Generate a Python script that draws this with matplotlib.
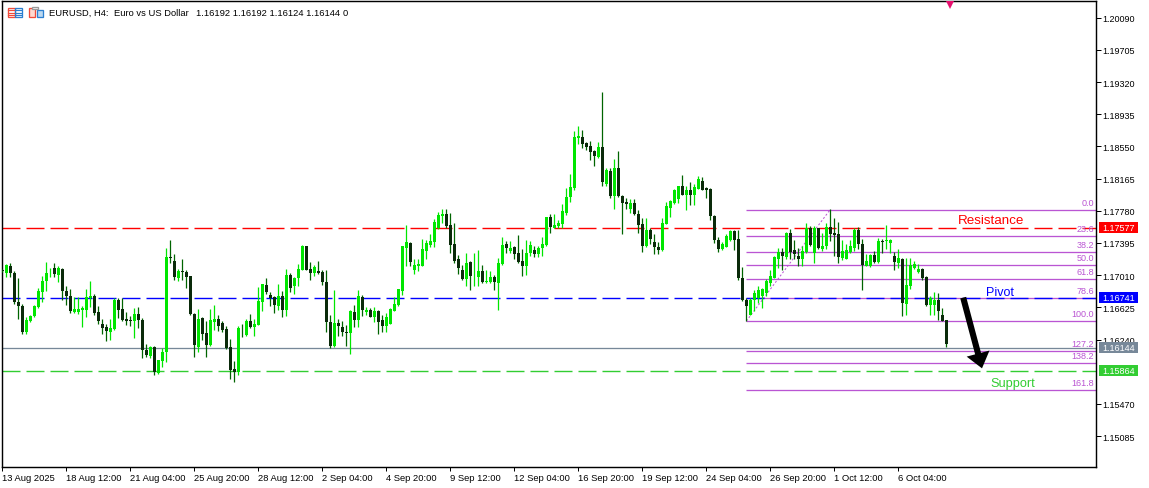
import matplotlib
matplotlib.use("Agg")
import matplotlib.pyplot as plt
import numpy as np
from matplotlib.patches import Rectangle, FancyArrowPatch

plt.rcParams['font.family'] = ['Liberation Sans', 'DejaVu Sans']

# Prices in points (1 point = 0.00001)
highs = [
117085,117149,117157,117057,116981,116669,116509,116537,116653,116857,
117005,117165,117097,117157,117117,117097,116885,116845,116749,116749,
116637,116849,116941,116785,116637,116485,116429,116485,116733,116733,
116733,116565,116517,116617,116629,116497,116189,116165,116165,115997,
116141,117333,117433,117265,117085,117205,117069,117005,116557,116609,
116509,116457,116609,116653,116529,116461,116405,116245,115985,116397,
116421,116485,116545,116485,116865,116905,116977,116813,116757,116909,
116817,117089,117037,116989,117149,117369,117361,117173,117137,117185,
117069,117077,116537,116837,116489,116457,116409,116597,116657,116829,
116773,116629,116617,116629,116597,116537,116557,116617,116749,116845,
117357,117605,117405,117205,117205,117437,117429,117505,117677,117765,
117797,117805,117757,117637,117245,117129,117277,117177,117277,117305,
117129,117069,117057,117013,117217,117469,117417,117413,117357,117485,
117317,117429,117417,117357,117357,117469,117709,117745,117737,117665,
117857,118049,118217,118737,118793,118745,118605,118609,118505,118605,
119201,118297,118289,118397,118489,117965,117937,117917,117925,117785,
117689,117689,117569,117497,117409,117697,117889,117905,118037,118081,
118205,118077,118129,118105,118193,118181,118065,118053,117725,117465,
117405,117497,117545,117549,117549,117109,116737,116737,116829,116885,
116857,116965,117077,117237,117337,117329,117525,117557,117425,117337,
117357,117629,117597,117597,117577,117517,117637,117797,117697,117645,
117429,117377,117429,117577,117589,117445,117257,117257,117297,117457,
117437,117605,117445,117285,117317,117217,117217,117217,117185,117145,
117097,117005,116757,116809,116797,116617,116477]

body_tops = [
117077,117129,117125,117037,116693,116645,116477,116525,116637,116825,
116945,117037,117041,117097,117097,117089,116825,116757,116605,116605,
116613,116749,116765,116765,116569,116429,116389,116377,116717,116717,
116609,116485,116473,116545,116545,116477,116113,116153,116153,115993,
116089,117221,117221,117181,117065,117065,117049,117001,116549,116489,
116493,116317,116469,116489,116485,116441,116365,116149,115889,116377,
116381,116465,116465,116429,116705,116901,116897,116773,116745,116757,
116765,117017,117013,116973,117089,117357,117353,117089,117109,117065,
117053,116933,116449,116441,116441,116393,116333,116577,116569,116757,
116749,116597,116593,116581,116581,116469,116509,116601,116669,116841,
117353,117401,117397,117137,117145,117317,117389,117413,117645,117733,
117741,117741,117605,117377,117197,117077,117157,117169,117005,117065,
117065,116941,116989,116989,117157,117373,117377,117333,117341,117269,
117181,117277,117369,117305,117337,117377,117705,117701,117609,117629,
117777,117949,118061,118657,118673,118661,118589,118553,118489,118541,
118541,118265,118261,118289,118289,117957,117881,117869,117869,117745,
117617,117549,117545,117401,117349,117629,117833,117897,118025,118073,
118073,118033,118033,118065,118157,118133,118053,118037,117721,117433,
117377,117481,117537,117533,117437,116981,116713,116717,116801,116837,
116845,116937,117005,117229,117289,117285,117513,117509,117305,117233,
117293,117573,117573,117573,117569,117357,117589,117589,117509,117497,
117297,117305,117357,117549,117549,117385,117185,117245,117245,117421,
117417,117425,117433,117237,117209,117205,116893,117133,117145,117089,
117085,116989,116733,116709,116709,116537,116473]

body_bottoms = [
117057,117037,117037,116685,116637,116329,116325,116461,116517,116625,
116813,116941,117033,117021,117017,116817,116757,116577,116573,116565,
116589,116597,116733,116557,116457,116381,116337,116333,116365,116597,
116477,116465,116461,116457,116469,116117,116049,116037,115849,115837,
115985,116085,117209,116985,116981,117045,116993,116545,116169,116149,
116309,116177,116173,116453,116397,116357,116141,115877,115857,115857,
116373,116289,116393,116393,116417,116693,116813,116741,116649,116645,
116589,116589,116857,116881,116973,117077,117077,117041,117037,117041,
116925,116449,116165,116157,116397,116325,116313,116313,116477,116477,
116597,116565,116509,116513,116453,116397,116405,116429,116585,116657,
116825,117337,117173,117069,117121,117121,117301,117373,117409,117577,
117717,117597,117373,117185,117093,116965,116969,116997,116997,116989,
116925,116925,116925,116925,116917,117149,117329,117301,117261,117173,
117117,117117,117269,117261,117265,117329,117369,117585,117577,117597,
117617,117757,117945,118049,118649,118577,118537,118481,118437,118425,
118121,118105,117957,117953,117953,117869,117857,117797,117737,117605,
117353,117353,117437,117345,117305,117305,117625,117817,117873,117925,
117973,117973,117965,117965,118045,118033,118029,117717,117429,117321,
117321,117349,117425,117425,116973,116709,116645,116537,116709,116733,
116757,116797,116917,116981,117205,117237,117229,117285,117257,117201,
117197,117285,117365,117273,117329,117325,117357,117497,117485,117225,
117213,117205,117289,117337,117377,117137,117125,117117,117165,117165,
117405,117413,117389,117165,117157,116677,116669,116877,117093,117053,
116981,116653,116653,116653,116577,116465,116189]

lows = [
117053,116989,116985,116669,116489,116309,116309,116453,116509,116613,
116693,116817,116985,116989,116925,116709,116657,116557,116557,116549,
116385,116505,116629,116537,116429,116309,116217,116229,116349,116497,
116457,116413,116405,116253,116373,116013,116029,116021,115821,115829,
115917,115973,117157,116949,116937,116957,116853,116533,116025,116093,
116229,116025,116165,116349,116337,116333,116129,115769,115733,115817,
116269,116281,116377,116285,116409,116581,116785,116645,116557,116597,
116505,116525,116805,116789,116877,117069,117069,116957,116997,117029,
116897,116333,116133,116149,116285,116277,116157,116069,116389,116389,
116525,116533,116505,116445,116301,116325,116325,116425,116577,116645,
116777,117117,117125,117029,117057,117117,117197,117345,117345,117557,
117637,117573,117277,117157,117029,116957,116885,116829,116885,116877,
116917,116917,116917,116837,116589,117137,117269,117277,117197,117157,
117005,117013,117237,117229,117229,117237,117357,117513,117569,117577,
117569,117729,117889,118033,118577,118529,118509,118385,118321,118417,
118073,118081,117929,117797,117945,117497,117801,117749,117729,117513,
117285,117349,117385,117257,117257,117297,117617,117705,117865,117873,
117965,117785,117849,117849,118037,118025,117937,117665,117393,117285,
117313,117341,117417,117309,116957,116701,116461,116529,116577,116677,
116613,116757,116885,116973,117097,117077,117205,117205,117205,117125,
117117,117277,117357,117157,117317,117297,117317,117417,117237,117157,
117189,117197,117277,117297,117325,116829,117117,117109,117157,117157,
117269,117317,117269,117069,117097,116517,116529,116845,117085,117037,
116949,116645,116537,116537,116469,116457,116149]

# D = down candle, G = up candle
directions = (
"DGDDDDGGGG" "GGGDGDDDGG" "GGGDDDDGGD" "DDDGDDDGDG" "GGDDGDDDDG"
"DDGGDDDDDG" "DGDGGGDDDG" "DGDGGGDDGD" "DDDGDDDGDG" "DGDGDDGGGG"
"GGDGGGGGGG" "GDDDDDGDGG" "DGGDGGDGDD" "DGGDGGGDGG" "GGGGGDDDDG"
"DGDGDDDGDD" "DGDDDGGGGG" "DGDGGDDDDD" "GGGDDDDGGG" "GGGGGDGDDD"
"GGDGDGGDDD" "GGGGDDGGDG" "DGGDGDGGGG" "DDGGDDD")

y_ticks = [1.20090, 1.19705, 1.19320, 1.18935, 1.18550, 1.18165, 1.17780,
           1.17395, 1.17010, 1.16625, 1.16240, 1.15470, 1.15085]
x_tick_bars = [0, 16, 32, 48, 64, 80, 96, 112, 128, 144, 160, 176, 192, 208, 224]
x_tick_labels = ["13 Aug 2025", "18 Aug 12:00", "21 Aug 04:00", "25 Aug 20:00",
                 "28 Aug 12:00", "2 Sep 04:00", "4 Sep 20:00", "9 Sep 12:00",
                 "12 Sep 04:00", "16 Sep 20:00", "19 Sep 12:00", "24 Sep 04:00",
                 "26 Sep 20:00", "1 Oct 12:00", "6 Oct 04:00"]

resistance = 1.17577
pivot = 1.16741
support = 1.15864
last_price = 1.16144

fib_labels = ["0.0", "23.6", "38.2", "50.0", "61.8", "78.6", "100.0", "127.2", "138.2", "161.8"]
fib_prices = [1.17793, 1.17482, 1.17291, 1.17135, 1.16968, 1.16741, 1.16466, 1.16107, 1.15963, 1.15640]
fib_start_bar = 186
fib_end_bar = 207
fib_start_price = 1.16461
fib_end_price = 1.17797

W, H = 1149, 489
PX = 0.72  # points per pixel at dpi 100
FS = 6.5
FS_X = 6.75
ORCHID = "#BA55D3"
LIME = "#00E600"

for arr in (highs, body_tops, body_bottoms, lows):
    assert len(arr) == 237
assert len(directions) == 237

fig = plt.figure(figsize=(W / 100, H / 100), dpi=100, facecolor="white")
ax = fig.add_axes([2 / W, (H - 468) / H, 1094 / W, 466 / H])
ax.set_xlim(-0.1, 273.4)
ax.set_ylim(1.14715, 1.20289)

x = np.arange(237)
hi = np.array(highs) / 1e5
lo = np.array(lows) / 1e5
top = np.array(body_tops) / 1e5
bot = np.array(body_bottoms) / 1e5
up = np.array([d == "G" for d in directions])

# horizontal levels
for price, color in ((resistance, "#FF0000"), (pivot, "#0000FF"), (support, "#32CD32")):
    ax.axhline(price, color=color, lw=PX * 1.4, linestyle=(0, (18 / 1.4, 6 / 1.4)),
               dash_capstyle="butt", zorder=1.5)
ax.axhline(last_price, color="#778899", lw=PX * 1.3, zorder=1.4)

# fibonacci
for price in fib_prices:
    ax.plot([fib_start_bar, 273.4], [price, price], color=ORCHID, lw=PX * 1.3,
            solid_capstyle="butt", zorder=1.3)
ax.plot([fib_start_bar, fib_end_bar], [fib_start_price, fib_end_price], color=ORCHID,
        lw=PX, linestyle=(0, (2, 2)), zorder=1.3)
for lab, price in zip(fib_labels, fib_prices):
    ax.annotate(lab, (273.4, price), xytext=(-1.5, 2.2), textcoords="offset points",
                ha="right", va="bottom", fontsize=FS, color=ORCHID, zorder=1.6)

# candles
w_up = ax.vlines(x[up], lo[up], hi[up], color=LIME, lw=PX * 1.25, zorder=3)
w_dn = ax.vlines(x[~up], lo[~up], hi[~up], color="#006400", lw=PX * 1.25, zorder=3)
w_up.set_snap(True)
w_dn.set_snap(True)
ax.bar(x[up], (top - bot)[up], bottom=bot[up], width=0.8, color=LIME, linewidth=0, zorder=3.2)
ax.bar(x[~up], (top - bot)[~up], bottom=bot[~up], width=0.8, color="#0A2A0A", linewidth=0, zorder=3.2)

# arrow
ax.add_patch(FancyArrowPatch((240.2, pivot), (244.9, 1.15895), mutation_scale=1, shrinkA=0, shrinkB=0,
                             arrowstyle="simple,head_length=11,head_width=17,tail_width=4.4",
                             color="black", lw=0, zorder=5))

# annotations
ax.text(238.9, 1.17665, "Resistance", color="#FF0000", fontsize=9.6, va="center", ha="left", zorder=6)
ax.text(245.9, 1.16804, "Pivot", color="#0000FF", fontsize=9, va="center", ha="left", zorder=6)
ax.text(247.0, 1.15716, "Support", color="#32CD32", fontsize=9.2, va="center", ha="left", zorder=6)

# marker on the top edge
ax.plot([236.9], [1.2025], marker="v", ms=7.5, color="#E6106E", mew=0, zorder=6, clip_on=True)

# axes
for s in ax.spines.values():
    s.set_linewidth(1.1 * PX * 1.3)
    s.set_color("black")
ax.yaxis.tick_right()
ax.set_yticks(y_ticks)
ax.set_yticklabels([f"{v:.5f}" for v in y_ticks])
ax.set_xticks(x_tick_bars)
ax.set_xticklabels(x_tick_labels, ha="left")
ax.tick_params(axis="y", length=5 * PX, width=PX, pad=1.0, labelsize=FS, colors="black")
ax.tick_params(axis="x", length=4 * PX, width=PX, pad=1.2, labelsize=FS_X, colors="black")
ax.set_axisbelow(False)

# price tags
trans = ax.get_yaxis_transform()
for price, color in ((resistance, "#FF0000"), (pivot, "#0000FF"), (last_price, "#778899"), (support, "#32CD32")):
    ax.add_patch(Rectangle((1097 / 1094, price - 0.00066), 39 / 1094, 0.00132, transform=trans,
                           facecolor=color, edgecolor="none", clip_on=False, zorder=10))
    ax.text(1100 / 1094, price, f"{price:.5f}", transform=trans, color="white", fontsize=FS,
            va="center", ha="left", clip_on=False, zorder=11)

# header
def ft(px_x, px_y):
    return px_x / W, 1 - px_y / H

for s, px_x in (("EURUSD, H4:", 49), ("Euro vs US Dollar", 114),
                ("1.16192 1.16192 1.16124 1.16144", 196), ("0", 343)):
    fig.text(*ft(px_x, 13), s, fontsize=FS_X, color="black", va="center", ha="left")

def box(x0, y0, x1, y1, color, fill="none"):
    fig.add_artist(Rectangle(ft(x0, y1), (x1 - x0) / W, (y1 - y0) / H, transform=fig.transFigure,
                             facecolor=fill, edgecolor=color, lw=PX * 1.3))

box(8, 8.5, 14.5, 18, "#F04A3A")
box(15, 8.5, 21.5, 18, "#2A7FD0")
for yy in (11, 13.5, 16):
    fig.add_artist(plt.Line2D([8 / W, 14 / W], [1 - yy / H] * 2, color="#F04A3A", lw=PX * 1.2))
    fig.add_artist(plt.Line2D([15.5 / W, 21 / W], [1 - yy / H] * 2, color="#2A7FD0", lw=PX * 1.2))
box(28.5, 8.5, 35, 18, "#F04A3A", "#FFD9D0")
box(36.5, 10.5, 43, 18, "#2A7FD0", "#BBD8F0")
box(32, 7.5, 38, 10, "#999999", "white")

fig.savefig("out.png", dpi=100, facecolor="white")
